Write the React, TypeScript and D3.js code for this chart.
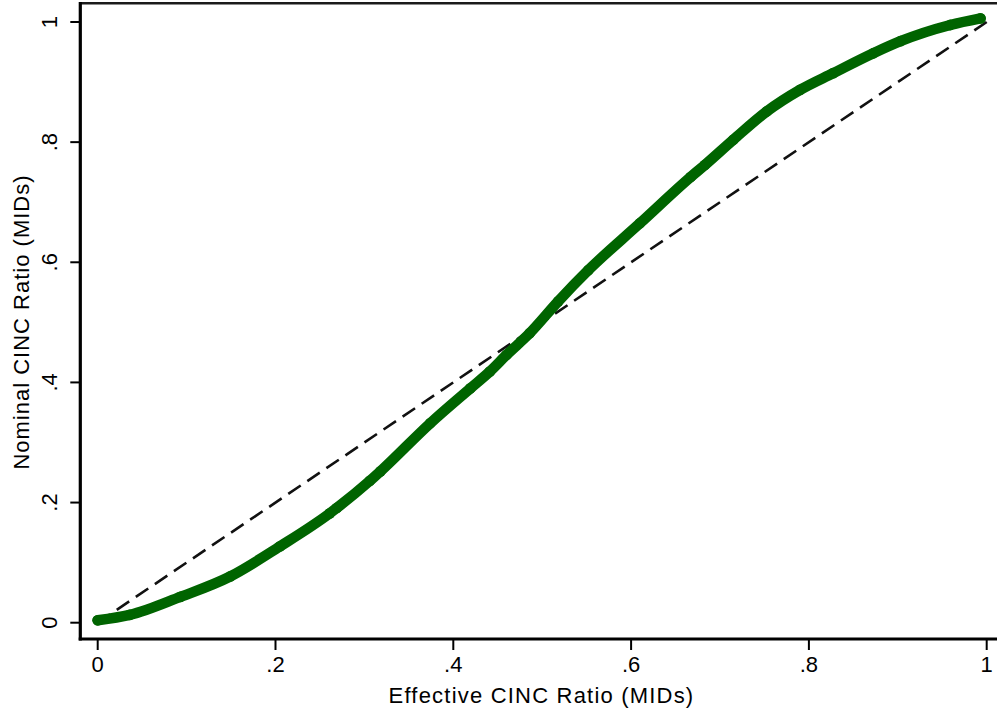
import React, { useEffect, useRef } from "react";
import * as d3 from "d3";

// readings of the green marker band (effective vs nominal CINC ratio)
const effective = [
  0.0, 0.036, 0.093, 0.149, 0.205, 0.261, 0.269, 0.306, 0.318, 0.374, 0.419,
  0.441, 0.46, 0.486, 0.518, 0.552, 0.61, 0.667, 0.683, 0.715, 0.7525, 0.79,
  0.8275, 0.8725, 0.903, 0.959, 0.993,
];
const nominal = [
  0.004, 0.013, 0.043, 0.077, 0.127, 0.182, 0.191, 0.236, 0.252, 0.332, 0.39,
  0.418, 0.446, 0.482, 0.535, 0.587, 0.665, 0.742, 0.762, 0.804, 0.851, 0.887,
  0.915, 0.948, 0.968, 0.995, 1.006,
];

const xTicks = [0, 0.2, 0.4, 0.6, 0.8, 1];
const yTicks = [0, 0.2, 0.4, 0.6, 0.8, 1];
const tickLabel = (v: number) => (v === 0 ? "0" : v === 1 ? "1" : String(v).replace(/^0/, ""));

const xTitle = "Effective CINC Ratio (MIDs)";
const yTitle = "Nominal CINC Ratio (MIDs)";

const App = () => {
  const svgRef = useRef<SVGSVGElement | null>(null);

  useEffect(() => {
    const width = 997;
    const height = 712;
    const font = "'Liberation Sans', Arial, Helvetica, sans-serif";
    const green = "#006400";

    const svg = d3.select(svgRef.current);
    svg.selectAll("*").remove();
    svg.attr("width", width).attr("height", height);

    svg.append("rect").attr("width", width).attr("height", height).attr("fill", "white");

    const xScale = d3.scaleLinear().domain([0, 1]).range([97.7, 986.7]);
    const yScale = d3.scaleLinear().domain([0, 1]).range([622.7, 22]);

    const axisLeftX = 80.3;
    const axisBottomY = 639;

    // plot frame top edge
    svg.append("line")
      .attr("x1", axisLeftX).attr("x2", width + 5)
      .attr("y1", 3.3).attr("y2", 3.3)
      .attr("stroke", "#1a1a1a").attr("stroke-width", 2.6);

    // 45 degree reference line
    svg.append("line")
      .attr("x1", xScale(0)).attr("y1", yScale(0))
      .attr("x2", xScale(1)).attr("y2", yScale(1))
      .attr("stroke", "#111")
      .attr("stroke-width", 2.6)
      .attr("stroke-dasharray", "15 8");

    const pts: [number, number][] = effective.map((e, i) => [e, nominal[i]]);

    const line = d3.line<[number, number]>()
      .x(d => xScale(d[0]))
      .y(d => yScale(d[1]))
      .curve(d3.curveMonotoneX);

    svg.append("path")
      .datum(pts)
      .attr("d", line)
      .attr("fill", "none")
      .attr("stroke", green)
      .attr("stroke-width", 10.5)
      .attr("stroke-linecap", "round")
      .attr("stroke-linejoin", "round");

    svg.selectAll(".marker")
      .data(pts)
      .enter()
      .append("circle")
      .attr("class", "marker")
      .attr("cx", d => xScale(d[0]))
      .attr("cy", d => yScale(d[1]))
      .attr("r", 5.4)
      .attr("fill", green);

    // axes
    svg.append("line")
      .attr("x1", axisLeftX).attr("x2", axisLeftX)
      .attr("y1", 2).attr("y2", axisBottomY + 1.5)
      .attr("stroke", "black").attr("stroke-width", 3.2);
    svg.append("line")
      .attr("x1", axisLeftX - 1.6).attr("x2", width + 5)
      .attr("y1", axisBottomY).attr("y2", axisBottomY)
      .attr("stroke", "black").attr("stroke-width", 3.2);

    const xt = svg.append("g");
    xt.selectAll("line")
      .data(xTicks)
      .enter()
      .append("line")
      .attr("x1", d => xScale(d)).attr("x2", d => xScale(d))
      .attr("y1", axisBottomY).attr("y2", axisBottomY + 11)
      .attr("stroke", "black").attr("stroke-width", 2);
    xt.selectAll("text")
      .data(xTicks)
      .enter()
      .append("text")
      .attr("x", d => xScale(d))
      .attr("y", 672)
      .attr("text-anchor", "middle")
      .style("font-family", font)
      .style("font-size", "22px")
      .text(d => tickLabel(d));

    const yt = svg.append("g");
    yt.selectAll("line")
      .data(yTicks)
      .enter()
      .append("line")
      .attr("x1", axisLeftX - 10).attr("x2", axisLeftX)
      .attr("y1", d => yScale(d)).attr("y2", d => yScale(d))
      .attr("stroke", "black").attr("stroke-width", 2);
    yt.selectAll("text")
      .data(yTicks)
      .enter()
      .append("text")
      .attr("transform", d => `translate(56.5,${yScale(d)}) rotate(-90)`)
      .attr("text-anchor", "middle")
      .style("font-family", font)
      .style("font-size", "22px")
      .text(d => tickLabel(d));

    svg.append("text")
      .attr("x", 541.5)
      .attr("y", 703)
      .attr("text-anchor", "middle")
      .style("font-family", font)
      .style("font-size", "22px")
      .style("letter-spacing", "1.2px")
      .text(xTitle);

    svg.append("text")
      .attr("transform", "translate(29,322) rotate(-90)")
      .attr("text-anchor", "middle")
      .style("font-family", font)
      .style("font-size", "22px")
      .style("letter-spacing", "1px")
      .text(yTitle);
  }, []);

  return (
    <div style={{ position: "absolute", top: 0, left: 0 }}>
      <svg ref={svgRef} style={{ display: "block" }}></svg>
    </div>
  );
};

export default App;
